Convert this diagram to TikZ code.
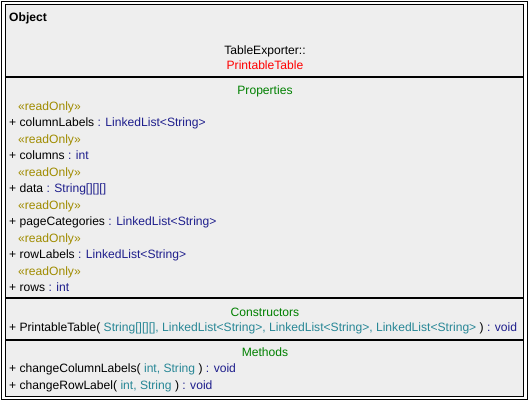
\documentclass[tikz,border=0pt]{standalone}
\usepackage{fontspec}
\setmainfont{Liberation Sans}
\definecolor{bgc}{RGB}{238,238,238}
\definecolor{stereo}{RGB}{160,140,0}
\definecolor{typec}{RGB}{30,30,140}
\definecolor{paramc}{RGB}{40,135,150}
\definecolor{headc}{RGB}{0,128,0}
\definecolor{namec}{RGB}{255,0,0}
\tikzset{
  px/.style={x=1pt,y=-1pt},
  txt/.style={anchor=base west,inner sep=0pt,font=\fontsize{12.1}{14}\selectfont},
  ctr/.style={anchor=base,inner sep=0pt,font=\fontsize{12.1}{14}\selectfont},
  sep/.style={line width=2pt},
}
\newcommand{\ty}[1]{\textcolor{typec}{#1}}
\newcommand{\pa}[1]{\textcolor{paramc}{#1}}
\begin{document}
\begin{tikzpicture}[px]
\useasboundingbox (0,0) rectangle (530,402);
\fill[white] (0,0) rectangle (530,402);
\draw[line width=1pt] (1.5,1.5) rectangle (527,399.5);
\draw[line width=1pt,fill=bgc] (5,4.5) rectangle (523.5,396.5);
\draw[sep] (5,77) -- (523.5,77);
\draw[sep] (5,298) -- (523.5,298);
\draw[sep] (5,340) -- (523.5,340);
\node[txt,font=\fontsize{12.1}{14}\selectfont\bfseries] (obj) at (9,21.7) {Object};
\node[ctr] (pkg) at (265,54.3) {TableExporter::};
\node[ctr,text=namec] (cls) at (265,69.3) {PrintableTable};
\node[ctr,text=headc] (hp) at (265,94) {Properties};
\node[txt,text=stereo] (s1) at (18,110) {«readOnly»};
\node[txt] (a1) at (9,126) {+ columnLabels \ty{: LinkedList<String>}};
\node[txt,text=stereo] (s2) at (18,143) {«readOnly»};
\node[txt] (a2) at (9,159) {+ columns \ty{: int}};
\node[txt,text=stereo] (s3) at (18,176) {«readOnly»};
\node[txt] (a3) at (9,192) {+ data \ty{: String[][][]}};
\node[txt,text=stereo] (s4) at (18,209) {«readOnly»};
\node[txt] (a4) at (9,225) {+ pageCategories \ty{: LinkedList<String>}};
\node[txt,text=stereo] (s5) at (18,242) {«readOnly»};
\node[txt] (a5) at (9,258) {+ rowLabels \ty{: LinkedList<String>}};
\node[txt,text=stereo] (s6) at (18,275) {«readOnly»};
\node[txt] (a6) at (9,291) {+ rows \ty{: int}};
\node[ctr,text=headc] (hc) at (265,316) {Constructors};
\node[txt] (c1) at (9,331.7) {+ PrintableTable( \pa{String[][][], LinkedList<String>, LinkedList<String>, LinkedList<String>} ) \ty{: void}};
\node[ctr,text=headc] (hm) at (265,356) {Methods};
\node[txt] (m1) at (9,372.7) {+ changeColumnLabels( \pa{int, String} ) \ty{: void}};
\node[txt] (m2) at (9,389.3) {+ changeRowLabel( \pa{int, String} ) \ty{: void}};
\end{tikzpicture}
\end{document}
